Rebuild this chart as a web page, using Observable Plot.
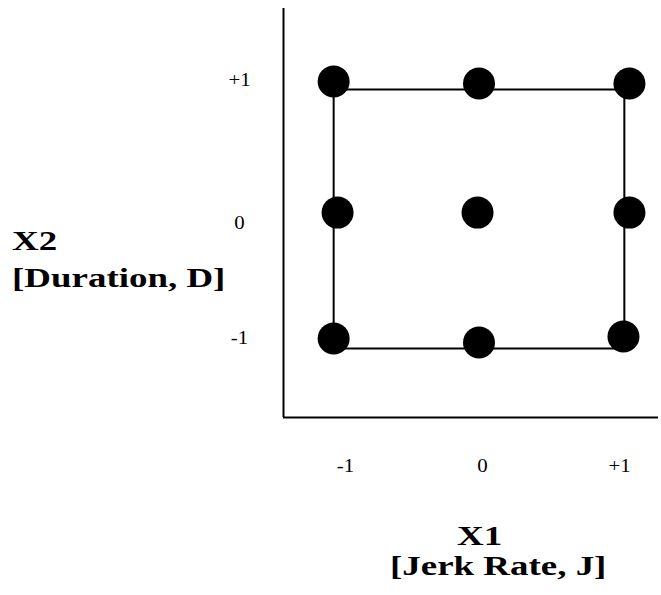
<!DOCTYPE html>
<html><head><meta charset="utf-8">
<script src="https://cdn.jsdelivr.net/npm/d3@7"></script>
<script src="https://cdn.jsdelivr.net/npm/@observablehq/plot@0.6"></script>
<style>
body{margin:0;background:#fff}
#chart svg{display:block}
</style>
</head><body><div id="chart"></div>
<script>
// Design points (hand-placed in the original, slightly off the grid)
const pointX = [-1.0, 0.0, 1.035, -0.973, -0.01, 1.035, -1.0, 0.0, 0.994];
const pointY = [1.061, 1.046, 1.046, 0.049, 0.049, 0.049, -0.923, -0.954, -0.908];
// Square outline of the design region
const squareX = [-1, 1, 1, -1, -1];
const squareY = [1, 1, -1, -1, 1];
// Tick labels and where they sit
const xTickLabels = ["-1", "0", "+1"];
const xTickPos = [-0.918, 0.024, 0.967];
const yTickLabels = ["+1", "0", "-1"];
const yTickPos = [1.077, -0.027, -0.915];
// Axis extents
const xAxisDomain = [-1.345, 1.235];
const yAxisDomain = [-1.533, 1.625];

const points = pointX.map((x, i) => ({x, y: pointY[i]}));
const square = squareX.map((x, i) => ({x, y: squareY[i]}));
const xTicks = xTickPos.map((x, i) => ({x, label: xTickLabels[i]}));
const yTicks = yTickPos.map((y, i) => ({y, label: yTickLabels[i]}));

const chart = Plot.plot({
  width: 661,
  height: 595,
  marginLeft: 283,
  marginRight: 3,
  marginTop: 8,
  marginBottom: 178,
  x: {domain: xAxisDomain, axis: null},
  y: {domain: yAxisDomain, axis: null},
  style: {fontFamily: "'Liberation Serif', 'Times New Roman', serif", background: "#fff"},
  marks: [
    Plot.ruleX([xAxisDomain[0]], {stroke: "#000", strokeWidth: 2}),
    Plot.ruleY([yAxisDomain[0]], {stroke: "#000", strokeWidth: 2}),
    Plot.line(square, {x: "x", y: "y", stroke: "#000", strokeWidth: 2}),
    Plot.dot(points, {x: "x", y: "y", r: 16, fill: "#000", stroke: "none"}),
    Plot.text(xTicks, {x: "x", text: "label", frameAnchor: "bottom", dy: 48, lineAnchor: "middle", fontSize: 19, fill: "#000", className: "tick-label"}),
    Plot.text(yTicks, {y: "y", text: "label", frameAnchor: "left", dx: -44, textAnchor: "middle", lineAnchor: "middle", fontSize: 19, fill: "#000", className: "tick-label"})
  ]
});
document.getElementById("chart").appendChild(chart);

// The original text is horizontally stretched
d3.select(chart).selectAll(".tick-label text").each(function () {
  const b = this.getBBox();
  const cx = b.x + b.width / 2;
  const t = this.getAttribute("transform") || "";
  this.setAttribute("transform", `${t} translate(${cx},0) scale(1.1,1) translate(${-cx},0)`);
});

const titles = [
  {text: "X2", x: 12, y: 250},
  {text: "[Duration, D]", x: 12, y: 287},
  {text: "X1", x: 457, y: 545},
  {text: "[Jerk Rate, J]", x: 390, y: 575}
];
d3.select(chart).append("g")
  .attr("text-anchor", "start")
  .selectAll("text").data(titles).join("text")
  .attr("transform", d => `translate(${d.x},${d.y}) scale(1.32,1)`)
  .attr("text-anchor", "start")
  .attr("font-family", "'Liberation Serif', 'Times New Roman', serif")
  .attr("font-weight", "bold")
  .attr("font-size", 28)
  .attr("fill", "#000")
  .text(d => d.text);
</script>
</body></html>
